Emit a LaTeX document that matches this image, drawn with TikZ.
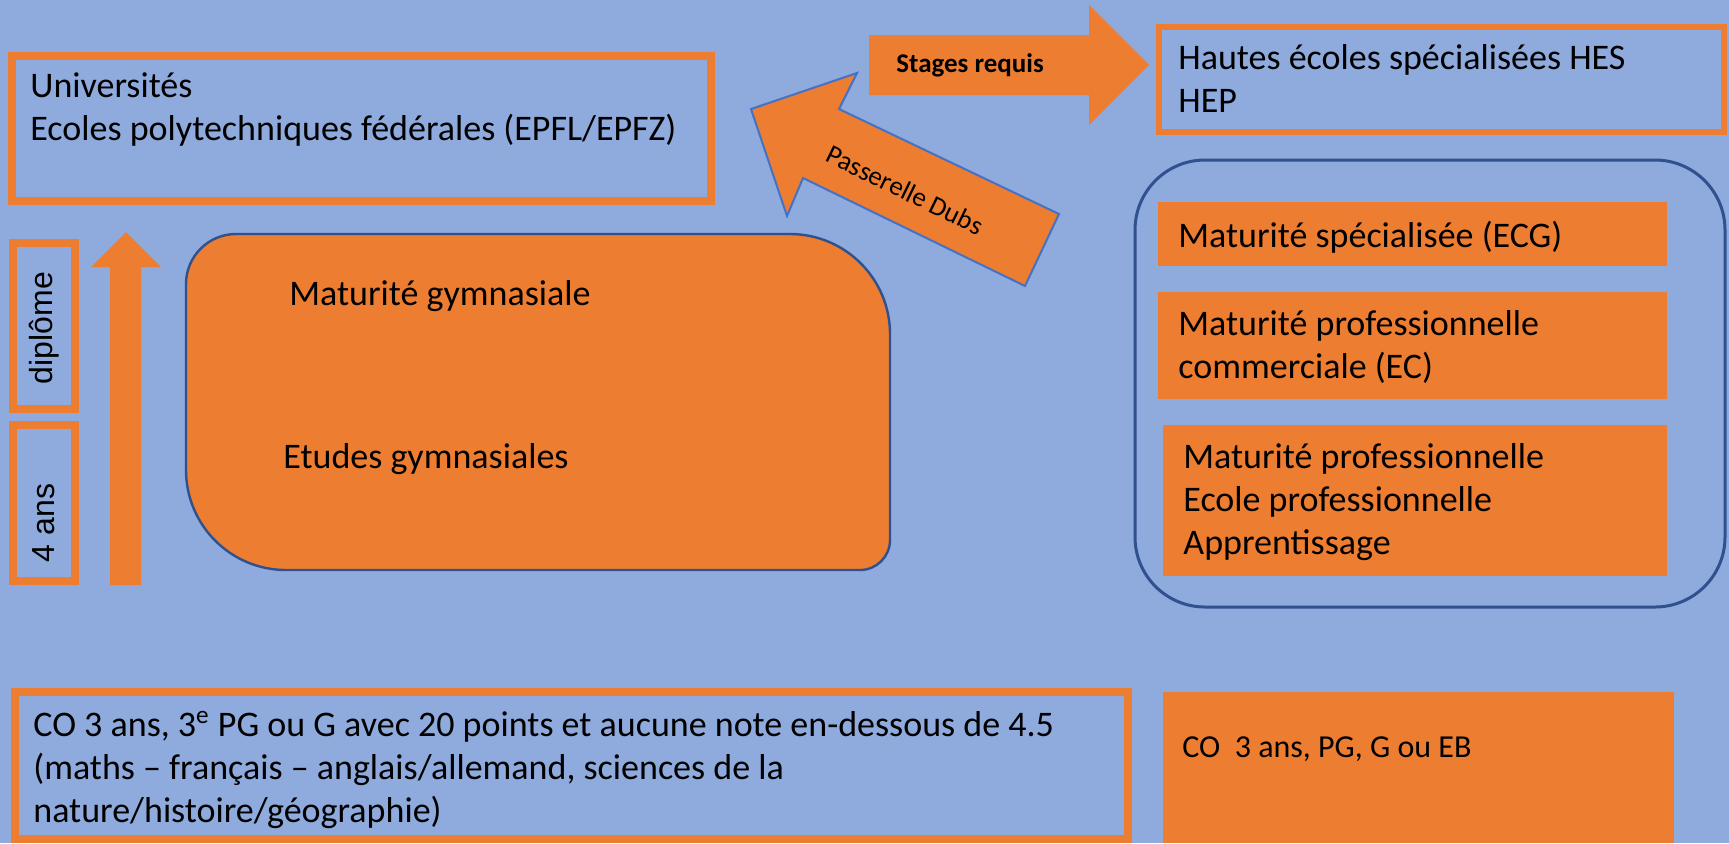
\documentclass[tikz,border=0pt]{standalone}
\usepackage{fontspec}
\setmainfont{Carlito}
\newfontfamily\arialfont{Liberation Sans}
\definecolor{bgblue}{HTML}{8FAADC}
\definecolor{orng}{HTML}{ED7D31}
\definecolor{dkblue}{HTML}{2F528F}
\definecolor{lnblue}{HTML}{4472C4}
\begin{document}
\begin{tikzpicture}[x=0.5pt,y=-0.5pt,
    lbl/.style={anchor=base west,inner sep=0pt,align=left,font=\fontsize{18}{21.5}\selectfont},
    framebox/.style={draw=orng,line width=4pt},
    matbox/.style={fill=orng},
    blockarrow/.style={fill=orng}]
  % background
  \fill[bgblue] (0,0) rectangle (1729,843);
  \useasboundingbox (0,0) rectangle (1729,843);

  % universites (base = last line)
  \draw[framebox] (12,56) rectangle (711,201);
  \node[lbl] (univ) at (30,140) {Universités\\Ecoles polytechniques fédérales (EPFL/EPFZ)};

  % HES / HEP
  \draw[framebox,line width=3pt] (1159,27) rectangle (1724,132);
  \node[lbl] (hes) at (1178,112) {Hautes écoles spécialisées HES\\HEP};

  % stages requis
  \fill[blockarrow] (869,35) -- (1089,35) -- (1089,5) -- (1149,65) -- (1089,125) -- (1089,95) -- (869,95) -- cycle;
  \node[anchor=base west,inner sep=0pt,font=\fontsize{13.5}{16}\selectfont\bfseries] (stages) at (896,72) {Stages requis};

  % passerelle
  \draw[blockarrow,draw=lnblue,line width=1pt] (751,109) -- (857,73) -- (839,109) -- (1059,214) -- (1025,286) -- (803,178) -- (787,216) -- cycle;
  \node[rotate=-26,inner sep=0pt,font=\fontsize{13.5}{16}\selectfont] (dubs) at (905,190) {Passerelle Dubs};

  % 4 ans, diplome
  \draw[framebox] (13,243) rectangle (75,409);
  \draw[framebox] (13,425) rectangle (75,581);
  \node[rotate=90,inner sep=0pt,font=\arialfont\fontsize{16}{19}\selectfont] (dipl) at (44,328) {diplôme};
  \node[rotate=90,inner sep=0pt,font=\arialfont\fontsize{16}{19}\selectfont] (ans) at (44,523) {4 ans};
  \fill[blockarrow] (110,585) -- (110,267) -- (91,267) -- (126,232) -- (161,267) -- (141,267) -- (141,585) -- cycle;

  % gymnase
  \draw[fill=orng,draw=dkblue,line width=1.2pt] (186,284) arc[start angle=180,end angle=90,radius=25pt]
    -- (790,234) arc[start angle=90,end angle=0,radius=50pt]
    -- (890,540) arc[start angle=0,end angle=-90,radius=15pt]
    -- (286,570) arc[start angle=270,end angle=180,radius=50pt] -- cycle;
  \node[lbl] (matgym) at (289,305) {Maturité gymnasiale};
  \node[lbl] (etgym) at (283,468) {Etudes gymnasiales};

  % maturites
  \draw[draw=dkblue,line width=1.5pt,rounded corners=35pt] (1135,160) rectangle (1725,607);
  \fill[matbox] (1158,202) rectangle (1667,266);
  \fill[matbox] (1158,292) rectangle (1667,399);
  \fill[matbox] (1163,425) rectangle (1667,576);
  \node[lbl] (ecg) at (1178,247) {Maturité spécialisée (ECG)};
  \node[lbl] (ec) at (1178,378) {Maturité professionnelle\\commerciale (EC)};
  \node[lbl] (app) at (1183,554) {Maturité professionnelle\\Ecole professionnelle\\Apprentissage};

  % CO
  \draw[framebox] (15,692) rectangle (1128,839);
  \node[lbl] (co) at (33,822) {CO 3 ans, 3\textsuperscript{e} PG ou G avec 20 points et aucune note en-dessous de 4.5\\(maths -- français -- anglais/allemand, sciences de la\\nature/histoire/géographie)};
  \fill[matbox] (1163,692) rectangle (1674,843);
  \node[anchor=base west,inner sep=0pt,font=\fontsize{16}{19}\selectfont] (cob) at (1182,757) {CO~~3 ans, PG, G ou EB};
\end{tikzpicture}
\end{document}
